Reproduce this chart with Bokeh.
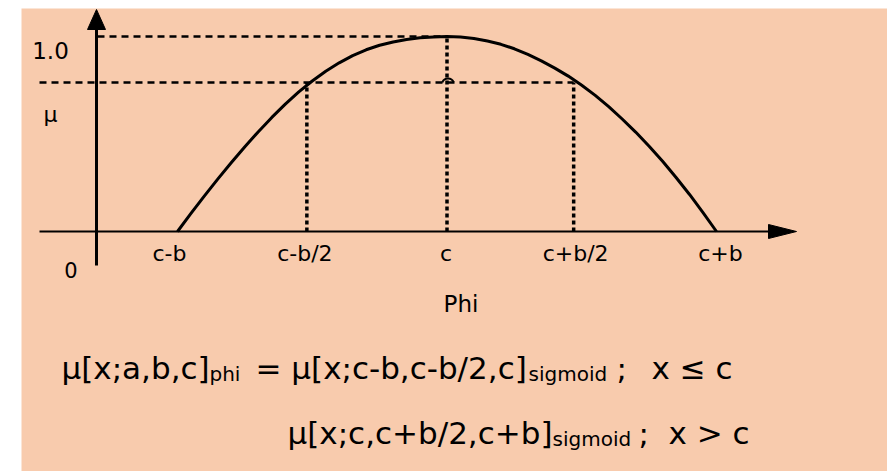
from bokeh.plotting import figure
from bokeh.models import Range1d
from bokeh.core.properties import value
from bokeh.embed import file_html
from bokeh.resources import INLINE

# ---- data (x in units of b around the centre c, membership from 0 to 1) ----
curve_x = [-1.0, -0.95, -0.9, -0.85, -0.8, -0.75, -0.7, -0.65, -0.6, -0.55,
           -0.5, -0.45, -0.4, -0.35, -0.3, -0.25, -0.2, -0.15, -0.1, -0.05,
           0.0,
           0.05, 0.1, 0.15, 0.2, 0.25, 0.3, 0.35, 0.4, 0.45, 0.5,
           0.55, 0.6, 0.65, 0.7, 0.75, 0.8, 0.85, 0.9, 0.95, 1.0]
curve_y = [0.0, 0.093, 0.183, 0.27, 0.354, 0.435, 0.512, 0.585, 0.653, 0.716,
           0.772, 0.822, 0.865, 0.902, 0.932, 0.955, 0.972, 0.985, 0.993, 0.998,
           1.0,
           0.997, 0.99, 0.977, 0.96, 0.937, 0.908, 0.875, 0.838, 0.797, 0.75,
           0.698, 0.64, 0.577, 0.51, 0.437, 0.36, 0.277, 0.19, 0.097, 0.0]

peak_level = 1.0
mu_level = 0.764
half_left = -0.52
half_right = 0.47

tick_pos = [-1.0, half_left, 0.0, half_right, 1.0]
tick_labels = ["c-b", "c-b/2", "c", "c+b/2", "c+b"]
tick_shift = [-8, -2, -1, 2, 4]

formula_main = ["μ[x;a,b,c]", "= μ[x;c-b,c-b/2,c]", ";", "x ≤ c",
                "μ[x;c,c+b/2,c+b]", ";", "x > c"]
formula_subs = ["phi", "sigmoid", "sigmoid"]

# ---- page geometry (screen pixels) ----
W, H = 887, 471
C_PX, B_PX = 446.5, 269.5      # centre c and half-width b
Y0_PX, Y1_PX = 231.0, 36.0     # membership 0 and 1


def sx(px):
    return (px - C_PX) / B_PX


def sy(py):
    return (Y0_PX - py) / (Y0_PX - Y1_PX)


def px_of(x):
    return C_PX + x * B_PX


p = figure(width=W, height=H, output_backend="svg", toolbar_location=None,
           x_range=Range1d(sx(0), sx(W)), y_range=Range1d(sy(H), sy(0)),
           x_axis_type=None, y_axis_type=None, min_border=0,
           background_fill_color="white", border_fill_color="white")
p.outline_line_color = None
p.grid.visible = False

FILL = "#F8CBAD"
INK = "black"
FONT = value("DejaVu Sans")

# peach panel
p.quad(left=sx(21), right=sx(W + 2), bottom=sy(H + 2), top=sy(8),
       fill_color=FILL, line_color=None)

# reference levels
p.line([sx(97), 0.0], [peak_level, peak_level], line_color=INK,
       line_width=2.5, line_dash="7 5")
p.line([sx(39), half_right], [mu_level, mu_level], line_color=INK,
       line_width=2.5, line_dash="7 5")
p.arc(x=[sx(447.5)], y=[sy(84)], radius=6, radius_units="screen",
      start_angle=0.35, end_angle=2.8, line_color=INK, line_width=2)

# drop lines
for xv, top in [(half_left, mu_level), (0.0, peak_level), (half_right, mu_level)]:
    p.line([xv, xv], [0, top], line_color=INK, line_width=3.5, line_dash="4 3")

# membership curve
p.line(curve_x, curve_y, line_color=INK, line_width=3, line_join="round")

# axes with arrow heads
p.line([sx(39), sx(772)], [0, 0], line_color=INK, line_width=2)
p.patch([sx(796), sx(768), sx(768)], [0, sy(224), sy(238)], fill_color=INK,
        line_color=INK)
p.line([sx(96), sx(96)], [sy(265), sy(27)], line_color=INK, line_width=3)
p.patch([sx(96), sx(87), sx(105)], [sy(9), sy(29), sy(29)], fill_color=INK,
        line_color=INK)

# axis labels
p.text(x=[sx(px_of(t) + d) for t, d in zip(tick_pos, tick_shift)],
       y=[sy(253)] * len(tick_pos), text=tick_labels, text_font=FONT,
       text_font_size="22px", text_align="center",
       text_baseline="alphabetic", text_color=INK)
p.text(x=[sx(50)], y=[sy(50)], text=["1.0"], text_font=FONT,
       text_font_size="23px", text_align="center",
       text_baseline="alphabetic", text_color=INK)
p.text(x=[sx(50)], y=[sy(114)], text=["μ"], text_font=FONT,
       text_font_size="22px", text_align="center",
       text_baseline="alphabetic", text_color=INK)
p.text(x=[sx(70.5)], y=[sy(269)], text=["0"], text_font=FONT,
       text_font_size="21px", text_align="center",
       text_baseline="alphabetic", text_color=INK)
p.text(x=[sx(460.5)], y=[sy(303)], text=["Phi"], text_font=FONT,
       text_font_size="23px", text_align="center",
       text_baseline="alphabetic", text_color=INK)

# formula
main_x = [61, 255, 616, 651, 287, 638, 668]
main_base = [367, 367, 367, 367, 432, 432, 432]
p.text(x=[sx(v) for v in main_x], y=[sy(v) for v in main_base],
       text=formula_main, text_font=FONT, text_font_size="31px",
       text_align="left", text_baseline="alphabetic", text_color=INK)
sub_x = [209, 528, 552]
sub_base = [373, 373, 438]
p.text(x=[sx(v) for v in sub_x], y=[sy(v) for v in sub_base],
       text=formula_subs, text_font=FONT, text_font_size="20px",
       text_align="left", text_baseline="alphabetic", text_color=INK)

open("out.html", "w").write(file_html(p, INLINE))
